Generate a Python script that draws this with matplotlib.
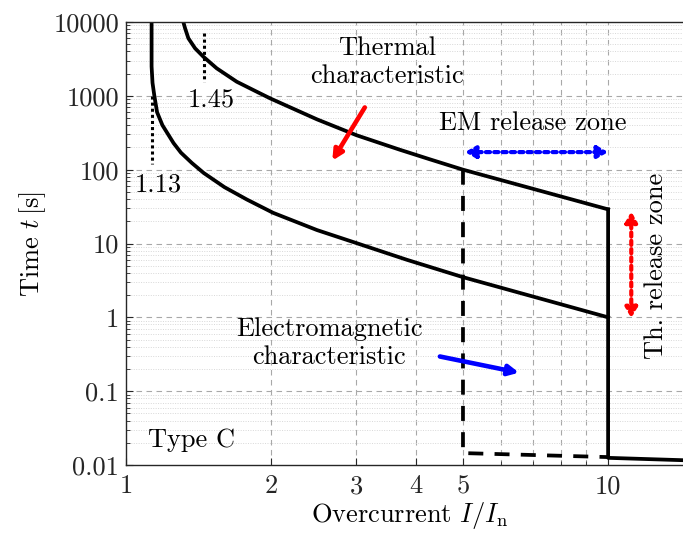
import numpy as np
import matplotlib
matplotlib.use("Agg")
import matplotlib.pyplot as plt
from matplotlib.ticker import FixedLocator, NullFormatter

plt.rcParams['font.family'] = 'serif'
plt.rcParams['font.serif'] = ['cmr10', 'DejaVu Serif']
plt.rcParams['mathtext.fontset'] = 'cm'
plt.rcParams['axes.formatter.use_mathtext'] = True

FS = 19

# upper thermal limit (1.45 curve)
upper_I = [1.315, 1.326, 1.347, 1.391, 1.447, 1.542, 1.697, 1.867, 1.99, 2.49, 3.01, 3.70, 4.27, 5.0, 10.0]
upper_t = [10000, 8220, 6020, 4400, 3390, 2360, 1553, 1137, 925, 480, 292, 186, 138, 100, 29]

# lower thermal limit (1.13 curve)
lower_I = [1.13, 1.13, 1.135, 1.145, 1.16, 1.19, 1.255, 1.30, 1.37, 1.45, 1.60, 1.78, 2.02, 2.49, 3.01, 3.83, 5.0, 10.0]
lower_t = [10000, 2500, 1500, 1000, 600, 400, 229, 170, 123, 90, 58, 39.5, 26, 15.2, 10.1, 6.0, 3.5, 1.0]

# electromagnetic trip (solid at 10 In, dashed at 5 In)
em_solid_I = [10.0, 10.0, 15.0]
em_solid_t = [29, 0.0125, 0.0115]
em_dash_I = [5.0, 5.0, 10.0]
em_dash_t = [100, 0.0145, 0.0128]

# marker lines for 1.13 and 1.45
m113_I = [1.13, 1.13]
m113_t = [1000, 120]
m145_I = [1.45, 1.45]
m145_t = [7100, 1540]

yticks = [0.01, 0.1, 1, 10, 100, 1000, 10000]
yticklabels = ['0.01', '0.1', '1', '10', '100', '1000', '10000']
xticks = [1, 2, 3, 4, 5, 10]
xticklabels = ['1', '2', '3', '4', '5', '10']

fig = plt.figure(figsize=(6.83, 5.36), dpi=100)
ax = fig.add_axes([126/683, 71/536, 567/683, 443/536])
ax.set_xscale('log')
ax.set_yscale('log')
ax.set_xlim(1, 15)
ax.set_ylim(0.01, 10000)

# grid
for xv in range(2, 11):
    ax.axvline(xv, color='#a8a8a8', lw=0.8, ls=(0, (5, 4)), zorder=0)
for yv in yticks[1:-1]:
    ax.axhline(yv, color='#a8a8a8', lw=0.8, ls=(0, (5, 4)), zorder=0)
for dec in [0.01, 0.1, 1, 10, 100, 1000]:
    for k in range(2, 10):
        ax.axhline(dec*k, color='#d8d8d8', lw=0.7, ls=(0, (1, 1.5)), zorder=0)

ax.plot(upper_I, upper_t, color='k', lw=2.7, solid_joinstyle='round')
ax.plot(lower_I, lower_t, color='k', lw=2.7, solid_joinstyle='round')
ax.plot(em_solid_I, em_solid_t, color='k', lw=2.7)
ax.plot(em_dash_I, em_dash_t, color='k', lw=2.7, ls=(0, (4, 3)))
ax.plot(m113_I, m113_t, color='k', lw=2.2, ls=(0, (1, 1)))
ax.plot(m145_I, m145_t, color='k', lw=2.2, ls=(0, (1, 1)))

ax.xaxis.set_major_locator(FixedLocator(xticks))
ax.set_xticklabels(xticklabels)
ax.xaxis.set_minor_locator(FixedLocator([6, 7, 8, 9]))
ax.xaxis.set_minor_formatter(NullFormatter())
ax.yaxis.set_major_locator(FixedLocator(yticks))
ax.set_yticklabels(yticklabels)
ax.yaxis.set_minor_locator(FixedLocator([d*k for d in [0.01, 0.1, 1, 10, 100, 1000] for k in range(2, 10)]))
ax.yaxis.set_minor_formatter(NullFormatter())
ax.tick_params(which='both', direction='in', labelsize=FS, colors='#262626', top=False, right=False)
ax.tick_params(which='major', length=5, width=0.8)
ax.tick_params(which='minor', length=3, width=0.6)
for s in ax.spines.values():
    s.set_color('#262626')
    s.set_linewidth(1.0)
ax.tick_params(axis='x', pad=7)
ax.tick_params(axis='y', pad=5)

ax.set_xlabel(r'Overcurrent $I/I_\mathrm{n}$', fontsize=FS, labelpad=1)
ax.set_ylabel(r'Time $t\,$[s]', fontsize=FS, labelpad=4)

ax.text(1.50, 877, '1.45', fontsize=FS, ha='center', va='center')
ax.text(1.165, 62, '1.13', fontsize=FS, ha='center', va='center')
ax.text(3.48, 2870, 'Thermal\ncharacteristic', fontsize=FS, ha='center', va='center', linespacing=1.25)
ax.text(6.99, 430, 'EM release zone', fontsize=FS, ha='center', va='center')
ax.text(2.64, 0.45, 'Electromagnetic\ncharacteristic', fontsize=FS, ha='center', va='center', linespacing=1.25)
ax.text(1.11, 0.022, 'Type C', fontsize=FS, ha='left', va='center')
ax.text(12.55, 5.0, 'Th. release zone', fontsize=FS, ha='center', va='center', rotation=90)

# solid pointer arrows
ax.annotate('', xy=(2.66, 123), xytext=(3.15, 750),
            arrowprops=dict(arrowstyle='-|>,head_length=0.6,head_width=0.3', color='red', lw=3.3))
ax.annotate('', xy=(6.62, 0.175), xytext=(4.42, 0.30),
            arrowprops=dict(arrowstyle='-|>,head_length=0.6,head_width=0.3', color='blue', lw=3.3))

# dotted double arrows
ax.annotate('', xy=(10.0, 173), xytext=(5.05, 173),
            arrowprops=dict(arrowstyle='<|-|>,head_length=0.6,head_width=0.35', color='blue', lw=3.0,
                            ls=(0, (1, 1)), shrinkA=0, shrinkB=0))
ax.annotate('', xy=(11.17, 0.975), xytext=(11.17, 27),
            arrowprops=dict(arrowstyle='<|-|>,head_length=0.6,head_width=0.35', color='red', lw=3.0,
                            ls=(0, (1, 1)), shrinkA=0, shrinkB=0))

fig.savefig('out.png', dpi=100)
